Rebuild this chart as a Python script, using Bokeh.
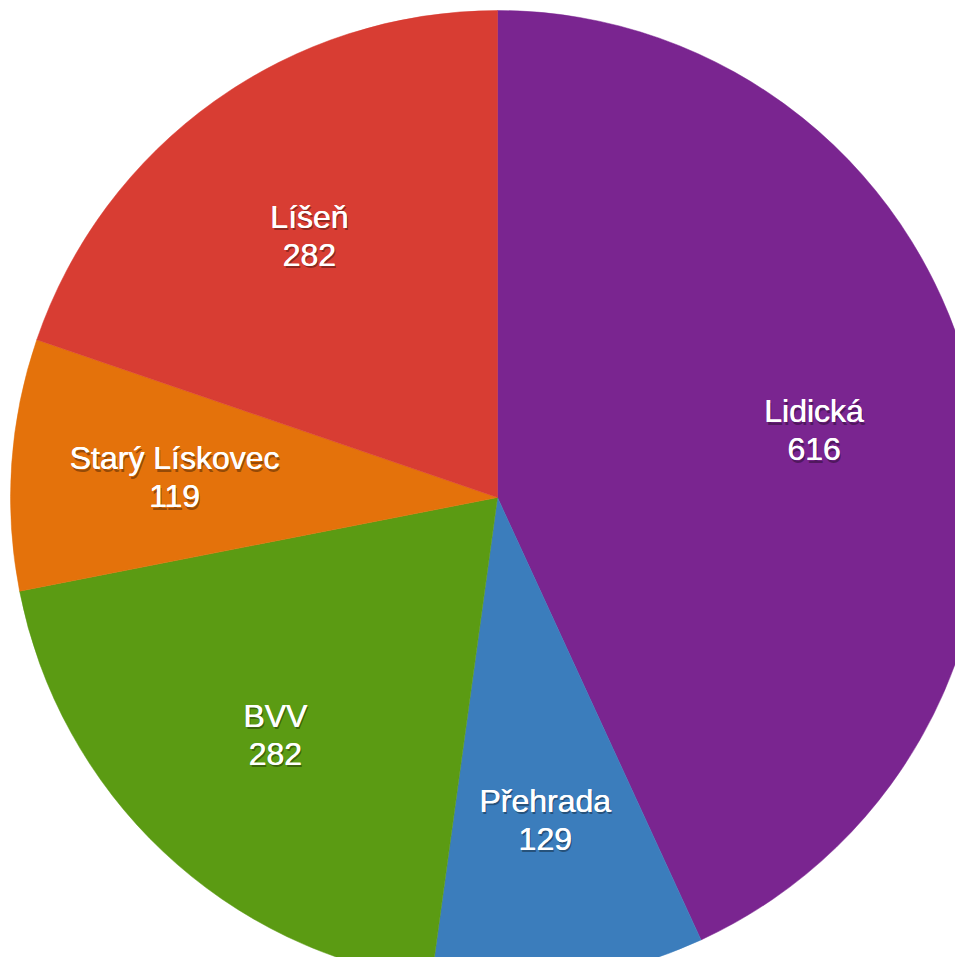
import math
from bokeh.plotting import figure
from bokeh.models import Range1d, ColumnDataSource
from bokeh.core.properties import value
from bokeh.embed import file_html
from bokeh.resources import INLINE

categories = ["Lidická", "Přehrada", "BVV", "Starý Lískovec", "Líšeň"]
values = [616, 129, 282, 119, 282]
colors = ["#7A2590", "#3B7DBC", "#5B9B13", "#E4720B", "#D83D33"]

W, H = 955, 957
CX, CY = 497, 497
R = 487
LABEL_R = 0.665 * R

total = float(sum(values))
starts, ends, lx, ly = [], [], [], []
cum = 0.0
for v in values:
    a0 = math.pi / 2 - 2 * math.pi * cum / total
    a1 = math.pi / 2 - 2 * math.pi * (cum + v) / total
    starts.append(a1)
    ends.append(a0)
    mid = (a0 + a1) / 2
    lx.append(LABEL_R * math.cos(mid))
    ly.append(LABEL_R * math.sin(mid))
    cum += v

src = ColumnDataSource(dict(
    start=starts, end=ends, color=colors,
    name=categories, val=[str(v) for v in values],
    lx=lx, ly=ly,
))

p = figure(width=W, height=H, output_backend="svg", toolbar_location=None,
           x_range=Range1d(-CX, W - CX), y_range=Range1d(-(H - CY), CY),
           min_border=0, outline_line_color=None, background_fill_color="white",
           border_fill_color="white")
p.axis.visible = False
p.grid.visible = False

p.wedge(x=0, y=0, radius=R, start_angle="start", end_angle="end",
        direction="anticlock", fill_color="color", line_color="color",
        line_width=0.5, source=src)

font = value("Liberation Sans")
fs = "32px"
for txt, off in (("name", -17), ("val", 21)):
    p.text(x="lx", y="ly", text=txt, source=src, text_font=font,
           text_font_size=fs, text_color="black", text_alpha=0.35,
           text_align="center", text_baseline="middle",
           x_offset=1.5, y_offset=off + 2.5)
    p.text(x="lx", y="ly", text=txt, source=src, text_font=font,
           text_font_size=fs, text_color="white",
           text_align="center", text_baseline="middle",
           x_offset=0.5, y_offset=off)
    p.text(x="lx", y="ly", text=txt, source=src, text_font=font,
           text_font_size=fs, text_color="white",
           text_align="center", text_baseline="middle",
           x_offset=0, y_offset=off)

open("out.html", "w").write(file_html(p, INLINE))
